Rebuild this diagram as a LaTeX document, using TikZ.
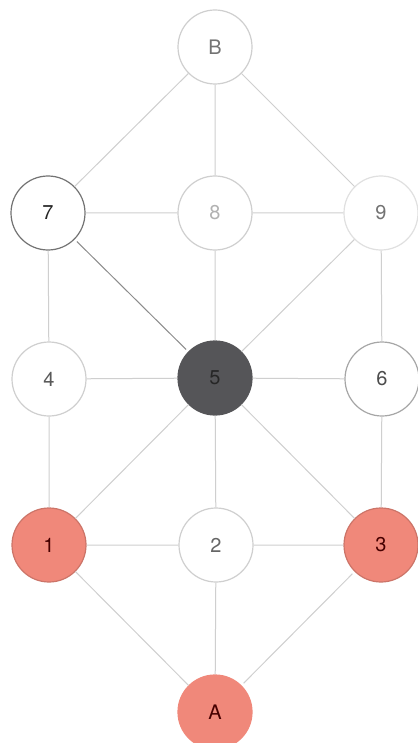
\documentclass[tikz,border=0pt]{standalone}
\usepackage{fontspec}
\setmainfont{TeX Gyre Heros}
\definecolor{salmon}{HTML}{F0887A}
\definecolor{darkfill}{HTML}{555558}
\definecolor{edgegray}{HTML}{CFCFCF}
\begin{document}
\begin{tikzpicture}[x=1pt,y=-1pt,
  nd/.style={circle,minimum size=74pt,inner sep=0pt,draw=edgegray,line width=1.2pt,fill=white,font=\fontsize{20}{24}\selectfont,text=black!55},
  hot/.style={nd,fill=salmon,draw=salmon!85!black,text=black!60!red!70!black},
  dark/.style={nd,fill=darkfill,draw=darkfill,text=black!85},
  edge/.style={draw=edgegray,line width=1pt,shorten >=3pt,shorten <=3pt}]
\useasboundingbox[fill=white] (0,0) rectangle (417,743);
\node[nd] (B) at (215,47) {B};
\node[nd,draw=black!55,text=black!85] (n7) at (48,213) {7};
\node[nd,text=black!30] (n8) at (215,213) {8};
\node[nd,draw=black!12] (n9) at (381,213) {9};
\node[nd,text=black!65] (n4) at (49,379) {4};
\node[dark] (n5) at (215,378) {5};
\node[nd,draw=black!35,text=black!70] (n6) at (382,379) {6};
\node[hot] (n1) at (49,545) {1};
\node[nd,text=black!60] (n2) at (216,545) {2};
\node[hot] (n3) at (381,545) {3};
\node[hot,draw=salmon] (A) at (215,712) {A};
\path[edge] (B) -- (n7) (B) -- (n8) (B) -- (n9)
  (n7) -- (n8) (n8) -- (n9)
  (n7) -- (n4) (n8) -- (n5) (n9) -- (n5) (n9) -- (n6)
  (n4) -- (n5) (n5) -- (n6)
  (n4) -- (n1) (n5) -- (n1) (n5) -- (n2) (n5) -- (n3) (n6) -- (n3)
  (n1) -- (n2) (n2) -- (n3)
  (n1) -- (A) (n2) -- (A) (n3) -- (A);
\path[edge,draw=black!45] (n7) -- (n5);
\end{tikzpicture}
\end{document}
